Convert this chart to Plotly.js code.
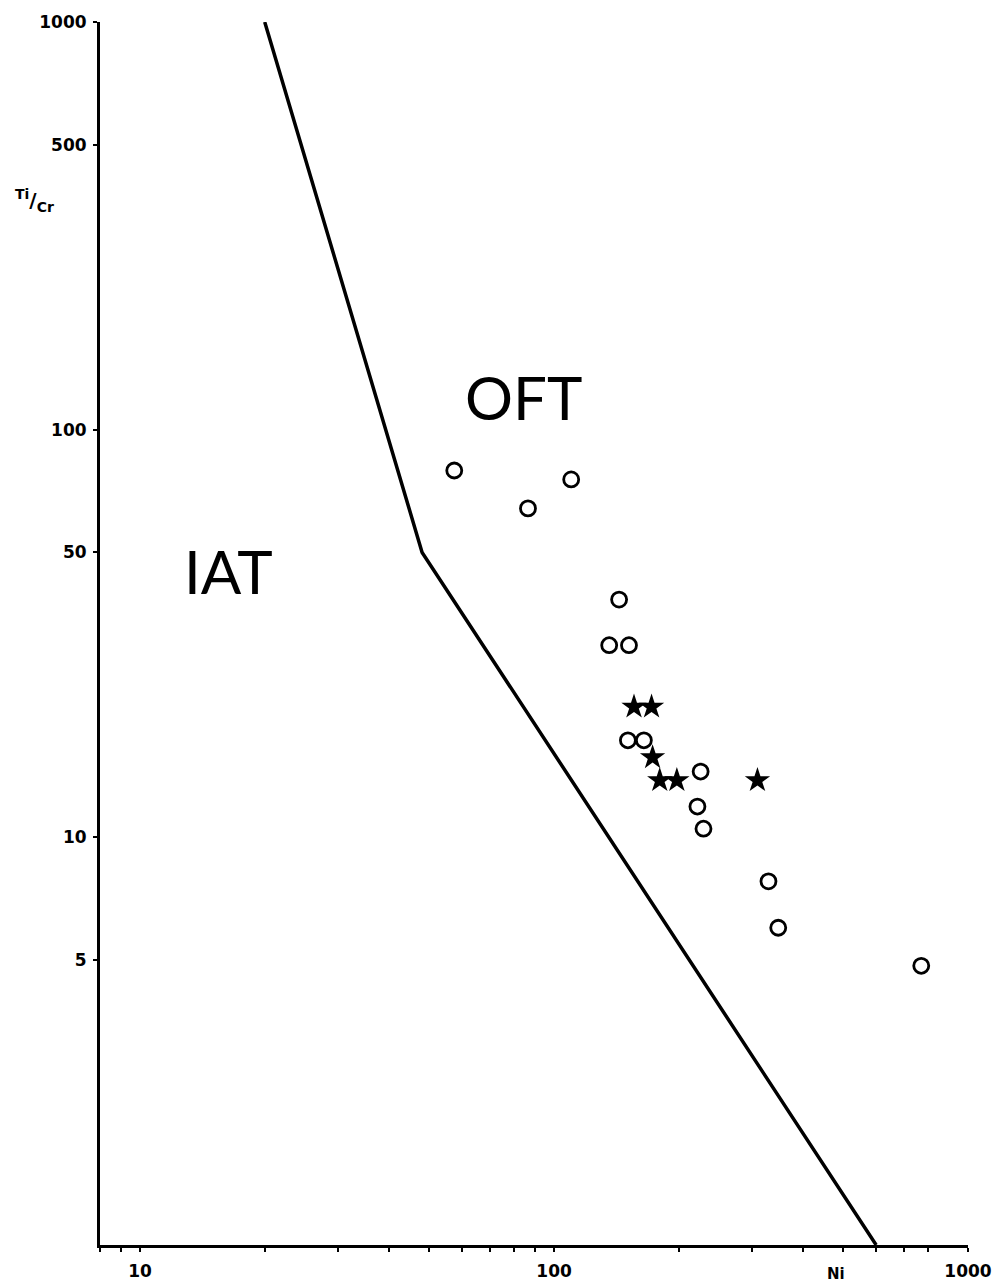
<!DOCTYPE html>
<html>
<head>
<meta charset="utf-8">
<script src="https://cdn.plot.ly/plotly-3.0.1.min.js"></script>
<style>body{margin:0;background:#fff}#chart{width:1002px;height:1286px}</style>
</head>
<body>
<div id="chart"></div>
<script>
// Boundary line between IAT and OFT fields
const boundaryNi = [20, 48, 600];
const boundaryTiCr = [1000, 50, 1];

// Open circles
const circleNi = [57.4, 86.5, 110, 143.6, 135.9, 151.7, 150.8, 164.8, 226, 222, 229.6, 329.6, 348, 771];
const circleTiCr = [79.4, 64.1, 75.5, 38.3, 29.6, 29.6, 17.3, 17.3, 14.5, 11.9, 10.5, 7.8, 6.0, 4.84];

// Filled stars
const starNi = [156, 172, 173, 180, 198, 310];
const starTiCr = [20.9, 20.9, 15.7, 13.8, 13.8, 13.8];

// Tick labels
const xTickVals = [8, 9, 10, 20, 30, 40, 50, 60, 70, 80, 90, 100, 200, 300, 400, 500, 600, 700, 800, 1000];
const xTickText = ['', '', '10', '', '', '', '', '', '', '', '', '100', '', '', '', '', '', '', '', '1000'];
const yTickVals = [5, 10, 50, 100, 500, 1000];
const yTickText = ['5', '10', '50', '100', '500', '1000'];

const data = [
  {x: boundaryNi, y: boundaryTiCr, mode: 'lines', line: {color: '#000', width: 3.5}, hoverinfo: 'skip', cliponaxis: false},
  {x: circleNi, y: circleTiCr, mode: 'markers', marker: {symbol: 'circle-open', size: 15, color: '#000', line: {width: 2.8, color: '#000'}}},
  {x: starNi, y: starTiCr, mode: 'markers', marker: {symbol: 'star', size: 19, color: '#000', line: {width: 0}}}
];

const tickFont = {family: 'DejaVu Sans', size: 17, color: '#000', weight: 'bold'};

function px(xp) { return (xp - 100) / 868; }
function py(yp) { return (1245 - yp) / 1223; }

const layout = {
  width: 1002, height: 1286,
  margin: {l: 100, r: 34, t: 22, b: 41},
  paper_bgcolor: '#fff', plot_bgcolor: '#fff',
  showlegend: false,
  xaxis: {
    type: 'log', range: [Math.log10(8), 3],
    showgrid: false, zeroline: false,
    showline: true, linecolor: '#000', linewidth: 3,
    ticks: 'outside', ticklen: 4, tickwidth: 2, tickcolor: '#000',
    tickvals: xTickVals, ticktext: xTickText,
    tickfont: tickFont, ticklabelstandoff: 5
  },
  yaxis: {
    type: 'log', range: [0, 3],
    showgrid: false, zeroline: false,
    showline: true, linecolor: '#000', linewidth: 3,
    ticks: 'outside', ticklen: 4, tickwidth: 2, tickcolor: '#000',
    tickvals: yTickVals, ticktext: yTickText,
    tickfont: tickFont, ticklabelstandoff: 3
  },
  annotations: [
    {text: 'OFT', xref: 'paper', yref: 'paper', x: px(523), y: py(397), xanchor: 'center', yanchor: 'middle', showarrow: false,
     font: {family: 'Lato', size: 60, color: '#000'}},
    {text: 'IAT', xref: 'paper', yref: 'paper', x: px(228), y: py(571), xanchor: 'center', yanchor: 'middle', showarrow: false,
     font: {family: 'Lato', size: 60, color: '#000'}},
    {text: 'Ni', xref: 'paper', yref: 'paper', x: px(836), y: py(1274), xanchor: 'center', yanchor: 'middle', showarrow: false,
     font: {family: 'DejaVu Sans', size: 15, color: '#000', weight: 'bold'}},
    {text: '<sup>Ti</sup>/<sub>Cr</sub>', xref: 'paper', yref: 'paper', x: px(34), y: py(200), xanchor: 'center', yanchor: 'middle', showarrow: false,
     font: {family: 'DejaVu Sans', size: 20, color: '#000', weight: 'bold'}}
  ]
};

Plotly.newPlot('chart', data, layout, {staticPlot: true, displayModeBar: false});
</script>
</body>
</html>
